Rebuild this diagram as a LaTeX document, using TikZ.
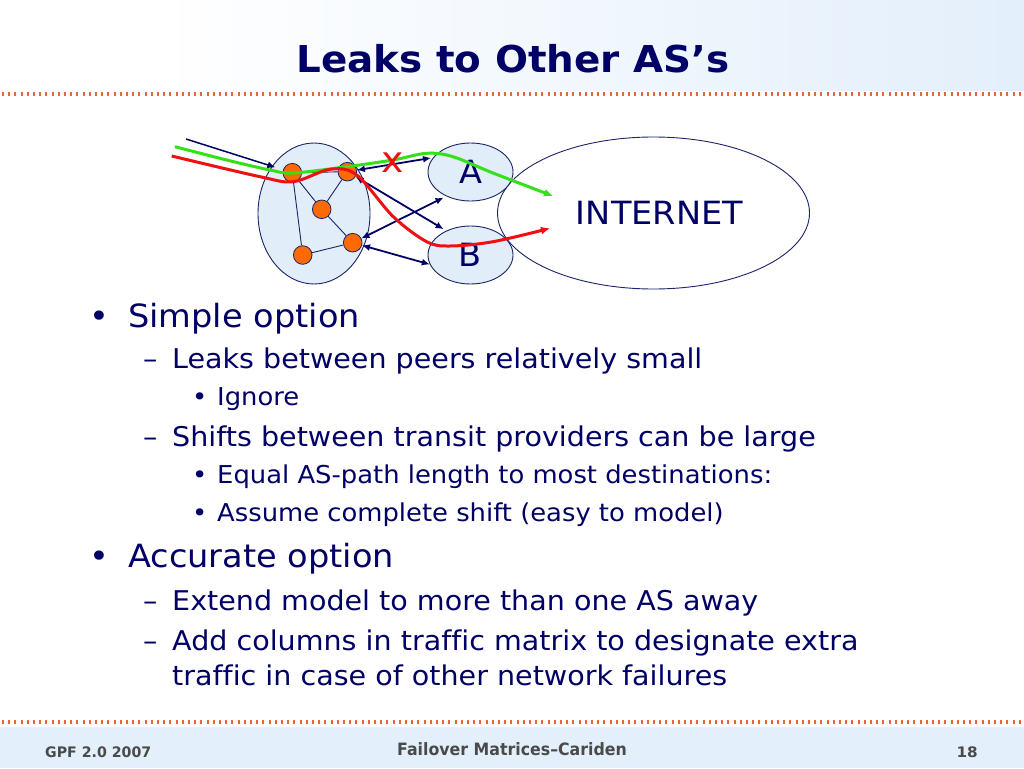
\documentclass[tikz,border=0pt]{standalone}
\usepackage{fontspec}
\usepackage{graphicx}
\setmainfont[FakeStretch=1.05,Ligatures=CommonOff]{DejaVu Sans}
\usetikzlibrary{arrows.meta,shapes.geometric}
\definecolor{navy}{HTML}{000066}
\definecolor{hdrblue}{HTML}{E3EFFB}
\definecolor{ellfill}{HTML}{E1EDF9}
\definecolor{edgeblue}{HTML}{1A2466}
\definecolor{dotorange}{HTML}{E8643C}
\definecolor{rtorange}{HTML}{FF6A00}
\definecolor{pgreen}{HTML}{33E01A}
\definecolor{pred}{HTML}{EE1111}
\definecolor{footgray}{HTML}{4A4A4A}
\begin{document}
\begin{tikzpicture}[x=1pt,y=-1pt,
  ell/.style={ellipse,draw=edgeblue,line width=0.9pt,fill=ellfill,inner sep=0pt,text=navy,font=\fontsize{32}{36}\selectfont},
  router/.style={circle,draw=edgeblue,line width=0.8pt,fill=rtorange,minimum size=18.6pt,inner sep=0pt},
  link/.style={edgeblue,line width=0.9pt},
  biarr/.style={navy,line width=1.8pt,{Latex[length=8pt,width=7pt]}-{Latex[length=8pt,width=7pt]}},
  onearr/.style={navy,line width=1.5pt,-{Latex[length=8pt,width=7pt]}},
  path/.style={line width=3pt,-{Latex[length=9pt,width=8pt]}},
  txt/.style={anchor=base west,inner sep=0pt,text=navy},
  lone/.style={txt,font=\fontsize{32}{36}\selectfont},
  ltwo/.style={txt,font=\fontsize{27.2}{32}\selectfont},
  lthree/.style={txt,font=\fontsize{24.6}{28}\selectfont},
  foot/.style={inner sep=0pt,text=footgray,font=\bfseries}
]
\useasboundingbox (0,0) rectangle (1024,768);
\fill[white] (0,0) rectangle (1024,768);
\shade[left color=white,right color=hdrblue] (150,0) rectangle (1024,90);
\fill[hdrblue] (0,727) rectangle (1024,768);
\draw[dotorange,line width=4pt,dash pattern=on 2pt off 4.2pt] (2,94) -- (1024,94);
\draw[dotorange,line width=4pt,dash pattern=on 2pt off 4.2pt] (2,722) -- (1024,722);

\node[anchor=base,inner sep=0pt,text=navy,font=\bfseries\fontsize{37}{40}\selectfont] (title) at (513,72) {Leaks to Other AS’s};

% diagram
\node[ell,fill=white,minimum width=312pt,minimum height=152pt] (inet) at (653.5,213) {\hspace*{12pt}INTERNET};
\node[ell,minimum width=112pt,minimum height=141pt] (as) at (314,213.5) {};
\node[ell,minimum width=85pt,minimum height=58pt] (A) at (470.5,172) {A};
\node[ell,minimum width=85pt,minimum height=58pt] (B) at (470.5,255) {B};

\node[router] (r1) at (292.3,172.7) {};
\node[router] (r2) at (347.3,171.7) {};
\node[router] (r3) at (321.7,209.3) {};
\node[router] (r4) at (352.7,242.7) {};
\node[router] (r5) at (302.7,255) {};
\draw[link] (r1) -- (r2);
\draw[link] (r1) -- (r3);
\draw[link] (r1) -- (r5);
\draw[link] (r2) -- (r3);
\draw[link] (r3) -- (r4);
\draw[link] (r5) -- (r4);

\coordinate (src) at (186,139);
\draw[onearr,shorten >=8pt] (src) -- (r1);
\draw[biarr,shorten >=2pt] (r2) -- (A.159);
\draw[biarr,shorten >=3pt] (r2) -- (B.135);
\draw[biarr,shorten >=3pt] (r4) -- (A.225);
\draw[biarr] (r4) -- (B.193);

\draw[path,pgreen] plot[smooth,tension=0.55] coordinates {(175,146.7) (226.7,160) (270,170) (293,173) (346.7,166.7) (393,160) (426.7,153.3) (453,156.7) (493,173) (553,196)};
\draw[path,pred] plot[smooth,tension=0.55] coordinates {(171.7,156) (260,176.7) (293.3,181.7) (330,169.3) (356.7,175) (393.3,216.7) (426.7,241.7) (450,246) (493,241.7) (550,228.3)};
\node[inner sep=0pt,text=pred,font=\fontsize{36}{36}\selectfont] (xmark) at (392.5,162.5) {x};

% text
\node[lone] (b1) at (89,327) {•};
\node[lone] (t1) at (128,327) {Simple option};
\node[ltwo] (d1) at (143,368) {–};
\node[ltwo] (t2) at (172,368) {Leaks between peers relatively small};
\node[lthree] (b2) at (192,405) {•};
\node[lthree] (t3) at (217,405) {Ignore};
\node[ltwo] (d2) at (143,446) {–};
\node[ltwo] (t4) at (172,446) {Shifts between transit providers can be large};
\node[lthree] (b3) at (192,483) {•};
\node[lthree] (t5) at (217,483) {Equal AS-path length to most destinations:};
\node[lthree] (b4) at (192,521) {•};
\node[lthree] (t6) at (217,521) {Assume complete shift (easy to model)};
\node[lone] (b5) at (89,567) {•};
\node[lone] (t7) at (128,567) {Accurate option};
\node[ltwo] (d3) at (143,610) {–};
\node[ltwo] (t8) at (172,610) {Extend model to more than one AS away};
\node[ltwo] (d4) at (143,650) {–};
\node[ltwo] (t9) at (172,650) {Add columns in traffic matrix to designate extra};
\node[ltwo] (t10) at (172,685) {traffic in case of other network failures};

% footer
\node[foot,anchor=base west,font=\bfseries\fontsize{14.5}{16}\selectfont] (f1) at (45,757) {\scalebox{0.93}[1]{GPF 2.0 2007}};
\node[foot,anchor=base,font=\bfseries\fontsize{17}{19}\selectfont] (f2) at (512,755) {\scalebox{0.885}[1]{Failover Matrices–Cariden}};
\node[foot,anchor=base east,font=\bfseries\fontsize{14.5}{16}\selectfont] (f3) at (978,757) {18};
\end{tikzpicture}
\end{document}
